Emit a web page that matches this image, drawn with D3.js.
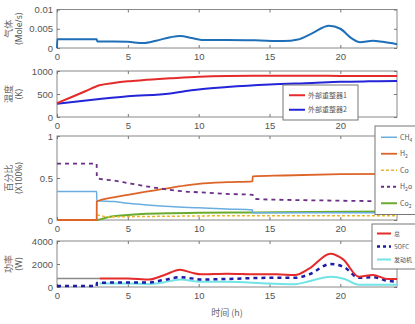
<!DOCTYPE html>
<html>
<head>
<meta charset="utf-8">
<script src="https://cdn.jsdelivr.net/npm/d3@7/dist/d3.min.js"></script>
<style>
  body { margin: 0; background: #fff; }
  svg { font-family: "Noto Sans", "Noto Sans CJK SC", sans-serif; }
  .tick text { fill: #555; font-size: 9.5px; }
  .tick line { stroke: #777; }
  .domain { stroke: #888; }
</style>
</head>
<body>
<div id="chart"></div>
<script>
// panel 1: gas flow (Mole/s)
const gasT   = [0, 0.02, 2.8, 2.85, 4, 5, 6.1, 7, 8, 8.7, 9.5, 10.2, 12, 14, 16, 17, 18, 19.2, 20, 20.8, 21.4, 22.3, 23, 24];
const gasVal = [0, 0.0023, 0.0023, 0.0017, 0.0017, 0.0016, 0.0013, 0.0019, 0.0028, 0.0031, 0.0026, 0.0021, 0.0021, 0.002, 0.0018, 0.0022, 0.0038, 0.0058, 0.005, 0.0025, 0.0015, 0.0019, 0.0016, 0.001];

// panel 2: reformer temperature (K)
const ref1T   = [0, 1, 2, 3, 4, 5, 6, 8, 10, 12, 15, 18, 20, 22, 24];
const ref1Val = [300, 430, 560, 690, 740, 775, 800, 840, 875, 890, 895, 895, 893, 890, 890];
const ref2T   = [0, 3, 5, 8, 9, 10, 12, 15, 18, 20, 22, 24];
const ref2Val = [290, 390, 450, 510, 560, 600, 650, 705, 740, 765, 775, 780];
const tempLegend = ["外部重整器1", "外部重整器2"];

// panel 3: gas fraction (x100%)
const ch4T   = [0, 2.8, 2.81, 4, 5, 6, 8, 10, 12, 13.8, 13.81, 16, 20, 24];
const ch4Val = [0.34, 0.34, 0.23, 0.22, 0.2, 0.185, 0.16, 0.145, 0.13, 0.12, 0.085, 0.085, 0.085, 0.085];
const h2T    = [0, 2.8, 2.81, 4, 5, 6, 7.5, 9, 10, 12, 13.8, 13.81, 16, 20, 24];
const h2Val  = [0, 0, 0.22, 0.27, 0.3, 0.33, 0.37, 0.41, 0.43, 0.45, 0.46, 0.52, 0.53, 0.545, 0.55];
const coT    = [0, 2.8, 2.81, 3.5, 5, 8, 12, 16, 20, 24];
const coVal  = [0, 0, 0.06, 0.04, 0.04, 0.045, 0.05, 0.05, 0.05, 0.05];
const h2oT   = [0, 2.8, 2.81, 4, 5, 6, 7.5, 9, 10, 12, 13.8, 14, 16, 20, 24];
const h2oVal = [0.67, 0.67, 0.5, 0.47, 0.44, 0.41, 0.37, 0.34, 0.33, 0.31, 0.3, 0.25, 0.24, 0.23, 0.22];
const co2T   = [0, 2.8, 3.5, 4, 5, 6, 8, 10, 14, 18, 24];
const co2Val = [0, 0, 0.03, 0.045, 0.06, 0.07, 0.08, 0.085, 0.09, 0.095, 0.1];

// panel 4: power (W)
const baseT     = [0, 3];
const baseVal   = [750, 750];
const totalT    = [3, 5, 6.5, 7.5, 8.7, 9.5, 10.2, 12, 14, 15.5, 16.8, 17.8, 19.3, 20.2, 21.3, 22.3, 23.3, 24];
const totalVal  = [750, 750, 650, 1000, 1500, 1250, 1100, 1150, 1100, 1100, 1050, 1600, 2900, 2400, 900, 1050, 700, 700];
const sofcT     = [0, 2.8, 2.81, 5, 6.5, 7.5, 8.7, 9.5, 10.2, 12, 15, 16.8, 17.8, 19.3, 20.3, 21.3, 22.3, 23.3, 24];
const sofcVal   = [80, 80, 350, 400, 400, 600, 850, 750, 650, 700, 800, 800, 1100, 2000, 1700, 800, 850, 550, 450];
const engineT   = [3, 5, 6.5, 7.5, 8.7, 10.2, 12, 15, 16.8, 17.8, 19.3, 20.3, 21.3, 24];
const engineVal = [300, 300, 250, 400, 650, 450, 450, 300, 250, 500, 900, 700, 200, 200];
const powerLegend = ["总", "SOFC", "发动机"];

const xTicks = [0, 5, 10, 15, 20];

const W = 415, H = 324;
const left = 57, right = 397;

const svg = d3.select("#chart").append("svg")
  .attr("width", W).attr("height", H);

const x = d3.scaleLinear().domain([0, 24]).range([left, right]);

const zip = (ts, vs) => ts.map((t, i) => [t, vs[i]]);

function panel(top, bottom, yMax, yTicks, label1, label2) {
  const y = d3.scaleLinear().domain([0, yMax]).range([bottom, top]);
  const g = svg.append("g");

  g.append("rect")
    .attr("x", left).attr("y", top)
    .attr("width", right - left).attr("height", bottom - top)
    .attr("fill", "none").attr("stroke", "#888");

  g.append("g")
    .attr("transform", `translate(0,${bottom})`)
    .call(d3.axisBottom(x).tickValues(xTicks).tickSize(-3).tickPadding(5).tickSizeOuter(0))
    .call(a => a.select(".domain").remove());
  g.append("g")
    .attr("transform", `translate(0,${top})`)
    .call(d3.axisTop(x).tickValues(xTicks).tickSize(-3).tickFormat("").tickSizeOuter(0))
    .call(a => a.select(".domain").remove());
  g.append("g")
    .attr("transform", `translate(${left},0)`)
    .call(d3.axisLeft(y).tickValues(yTicks).tickSize(-3).tickPadding(4).tickFormat(d => String(d)).tickSizeOuter(0))
    .call(a => a.select(".domain").remove());
  g.append("g")
    .attr("transform", `translate(${right},0)`)
    .call(d3.axisRight(y).tickValues(yTicks).tickSize(-3).tickFormat("").tickSizeOuter(0))
    .call(a => a.select(".domain").remove());

  const cy = (top + bottom) / 2;
  g.append("text")
    .attr("transform", `translate(12,${cy}) rotate(-90)`)
    .attr("text-anchor", "middle")
    .attr("fill", "#666").style("font-size", "9px")
    .style("font-family", "'Noto Sans CJK SC', sans-serif")
    .text(label1);
  g.append("text")
    .attr("transform", `translate(22,${cy}) rotate(-90)`)
    .attr("text-anchor", "middle")
    .attr("fill", "#555").style("font-size", "8.5px")
    .text(label2);

  return { g, y };
}

function drawLine(p, data, color, width, dash) {
  const line = d3.line()
    .x(d => x(d[0]))
    .y(d => p.y(d[1]))
    .curve(d3.curveMonotoneX);
  p.g.append("path")
    .datum(data)
    .attr("fill", "none")
    .attr("stroke", color)
    .attr("stroke-width", width)
    .attr("stroke-dasharray", dash || null)
    .attr("d", line);
}

// legend box; lx = line start offset, lw = line length
function legend(p, x0, y0, w, rowH, items, fontSize, lx, lw) {
  const h = rowH * items.length + 6;
  p.g.append("rect")
    .attr("x", x0).attr("y", y0).attr("width", w).attr("height", h)
    .attr("fill", "#fff").attr("stroke", "#777").attr("stroke-width", 1);
  items.forEach((it, i) => {
    const yy = y0 + 3 + rowH * (i + 0.5);
    p.g.append("line")
      .attr("x1", x0 + lx).attr("x2", x0 + lx + lw).attr("y1", yy).attr("y2", yy)
      .attr("stroke", it.color).attr("stroke-width", it.width)
      .attr("stroke-dasharray", it.dash || null);
    p.g.append("text")
      .attr("x", x0 + lx + lw + 3).attr("y", yy).attr("dy", "0.35em")
      .attr("fill", "#555").style("font-size", fontSize + "px")
      .style("font-family", "'Noto Sans CJK SC', 'Noto Sans', sans-serif")
      .html(it.label);
  });
}

// panel 1
const p1 = panel(9.5, 48, 0.01, [0, 0.005, 0.01], "气体", "(Mole/s)");
drawLine(p1, zip(gasT, gasVal), "#1f6fb8", 2);

// panel 2
const p2 = panel(71, 117, 1000, [0, 500, 1000], "温度", "(K)");
drawLine(p2, zip(ref2T, ref2Val), "#2424d8", 2);
drawLine(p2, zip(ref1T, ref1Val), "#e42a2a", 2);
legend(p2, 283, 85, 75, 14.5, [
  { label: tempLegend[0], color: "#e42a2a", width: 2 },
  { label: tempLegend[1], color: "#2424d8", width: 2 }
], 7, 6, 16);

// panel 3
const p3 = panel(136, 220, 1, [0, 0.5, 1], "百分比", "(X100%)");
drawLine(p3, zip(co2T, co2Val), "#6aab2e", 2);
drawLine(p3, zip(coT, coVal), "#e9b52a", 1.5, "3,2");
drawLine(p3, zip(ch4T, ch4Val), "#6aaee0", 1.5);
drawLine(p3, zip(h2T, h2Val), "#dd6428", 1.8);
drawLine(p3, zip(h2oT, h2oVal), "#6a2f86", 1.8, "4,4");
legend(p3, 375, 126, 45, 16.5, [
  { label: "CH<tspan dy='2' font-size='5'>4</tspan>", color: "#6aaee0", width: 1.5 },
  { label: "H<tspan dy='2' font-size='5'>2</tspan>", color: "#dd6428", width: 1.8 },
  { label: "Co", color: "#e9b52a", width: 1.5, dash: "3,2" },
  { label: "H<tspan dy='2' font-size='5'>2</tspan><tspan dy='-2'>o</tspan>", color: "#6a2f86", width: 1.8, dash: "3,3" },
  { label: "Co<tspan dy='2' font-size='5'>2</tspan>", color: "#6aab2e", width: 2 }
], 7, 6, 16);

// panel 4
const p4 = panel(241, 287, 4000, [0, 2000, 4000], "功率", "(W)");
drawLine(p4, zip(baseT, baseVal), "#8a8a8a", 1.5);
drawLine(p4, zip(engineT, engineVal), "#72e4e6", 2);
drawLine(p4, zip(sofcT, sofcVal), "#1c1ca8", 2.5, "4,4");
drawLine(p4, zip(totalT, totalVal), "#e42a2a", 2);
legend(p4, 372, 224, 48, 13, [
  { label: powerLegend[0], color: "#e42a2a", width: 2 },
  { label: powerLegend[1], color: "#1c1ca8", width: 2.5, dash: "3,3" },
  { label: powerLegend[2], color: "#72e4e6", width: 2 }
], 6, 5, 14);

svg.append("text")
  .attr("x", (left + right) / 2).attr("y", 316)
  .attr("text-anchor", "middle")
  .attr("fill", "#666").style("font-size", "9px")
  .style("font-family", "'Noto Sans CJK SC', sans-serif")
  .text("时间 (h)");
</script>
</body>
</html>
